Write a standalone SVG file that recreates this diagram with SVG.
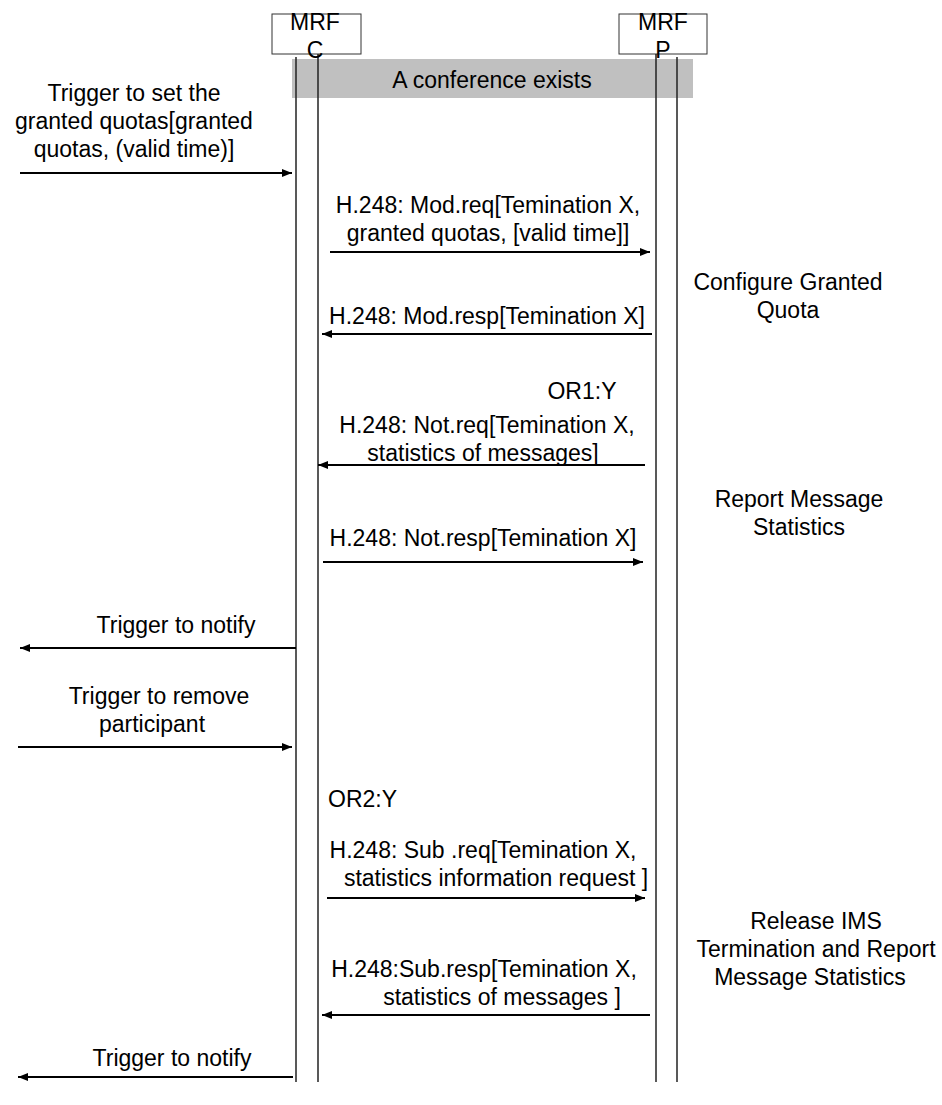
<svg xmlns="http://www.w3.org/2000/svg" width="942" height="1105" viewBox="0 0 942 1105">
<style>
text{font-family:"Liberation Sans",Arial,sans-serif;font-size:23px;fill:#000}
.c{text-anchor:middle}
.box{fill:#fff;stroke:#333;stroke-width:1}
.life{stroke:#222;stroke-width:1.5;fill:none}
.msg{stroke:#000;stroke-width:2;fill:none}
</style>
<defs>
<marker id="ah" viewBox="0 0 10 8" refX="10" refY="4" markerWidth="10" markerHeight="8" markerUnits="userSpaceOnUse" orient="auto">
<path d="M0,0 L10,4 L0,8 z" fill="#000"/>
</marker>
</defs>
<rect width="942" height="1105" fill="#fff"/>
<g id="node-mrfc-box">
<rect class="box" x="272" y="14" width="89" height="40"/>
</g>
<g id="node-mrfp-box">
<rect class="box" x="619" y="14" width="88" height="40"/>
</g>
<g id="node-conference">
<rect x="292" y="59" width="401" height="39" fill="#c0c0c0"/>
<text class="c" x="492" y="88">A conference exists</text>
</g>
<g id="lifelines">
<line class="life" x1="296" y1="57" x2="296" y2="1082"/>
<line class="life" x1="318" y1="54" x2="318" y2="1082"/>
<line class="life" x1="656" y1="54" x2="656" y2="1082"/>
<line class="life" x1="677" y1="57" x2="677" y2="1082"/>
</g>
<g id="node-mrfc-label">
<text class="c" x="315" y="30">MRF</text>
<text class="c" x="315" y="58">C</text>
</g>
<g id="node-mrfp-label">
<text class="c" x="663" y="30">MRF</text>
<text class="c" x="663" y="58">P</text>
</g>
<g id="connectors">
<line class="msg" x1="20" y1="173" x2="292" y2="173" marker-end="url(#ah)"/>
<line class="msg" x1="330" y1="252" x2="650" y2="252" marker-end="url(#ah)"/>
<line class="msg" x1="652" y1="334" x2="322" y2="334" marker-end="url(#ah)"/>
<line class="msg" x1="645" y1="465" x2="318" y2="465" marker-end="url(#ah)"/>
<line class="msg" x1="323" y1="562" x2="643" y2="562" marker-end="url(#ah)"/>
<line class="msg" x1="296" y1="648" x2="20" y2="648" marker-end="url(#ah)"/>
<line class="msg" x1="18" y1="747" x2="292" y2="747" marker-end="url(#ah)"/>
<line class="msg" x1="327" y1="898" x2="645" y2="898" marker-end="url(#ah)"/>
<line class="msg" x1="650" y1="1015" x2="322" y2="1015" marker-end="url(#ah)"/>
<line class="msg" x1="293" y1="1077" x2="18" y2="1077" marker-end="url(#ah)"/>
</g>
<g id="labels">
<text class="c" x="134" y="101">Trigger to set the</text>
<text class="c" x="134" y="129">granted quotas[granted</text>
<text class="c" x="134" y="157">quotas, (valid time)]</text>
<text class="c" x="488" y="213">H.248: Mod.req[Temination X,</text>
<text class="c" x="488" y="241">granted quotas, [valid time]]</text>
<text class="c" x="788" y="290">Configure Granted</text>
<text class="c" x="788" y="318">Quota</text>
<text class="c" x="487" y="324">H.248: Mod.resp[Temination X]</text>
<text class="c" x="582" y="399">OR1:Y</text>
<text class="c" x="487" y="433">H.248: Not.req[Temination X,</text>
<text class="c" x="483" y="461">statistics of messages]</text>
<text class="c" x="799" y="507">Report Message</text>
<text class="c" x="799" y="535">Statistics</text>
<text class="c" x="483" y="546">H.248: Not.resp[Temination X]</text>
<text class="c" x="176" y="633">Trigger to notify</text>
<text class="c" x="159" y="704">Trigger to remove</text>
<text class="c" x="152" y="732">participant</text>
<text x="328" y="807">OR2:Y</text>
<text class="c" x="483" y="858">H.248: Sub .req[Temination X,</text>
<text class="c" x="496" y="886">statistics information request ]</text>
<text class="c" x="816" y="929">Release IMS</text>
<text class="c" x="816" y="957">Termination and Report</text>
<text class="c" x="810" y="985">Message Statistics</text>
<text class="c" x="484" y="977">H.248:Sub.resp[Temination X,</text>
<text class="c" x="502" y="1005">statistics of messages ]</text>
<text class="c" x="172" y="1066">Trigger to notify</text>
</g>
</svg>
